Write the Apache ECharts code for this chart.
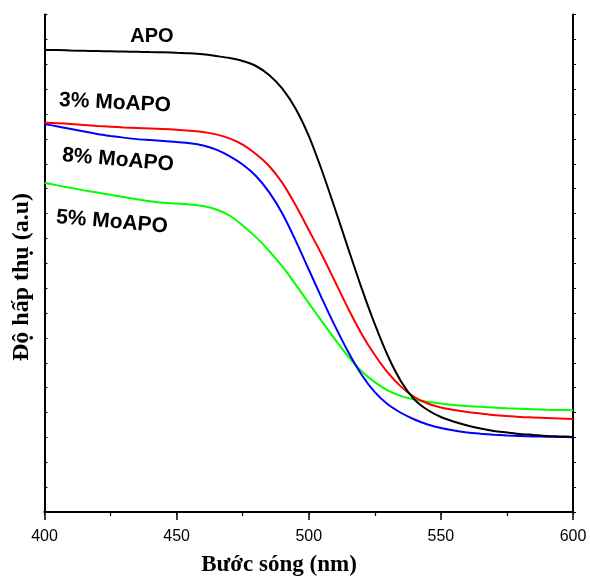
<!DOCTYPE html>
<html>
<head>
<meta charset="utf-8">
<script src="https://cdn.jsdelivr.net/npm/echarts@6/dist/echarts.min.js"></script>
<style>
  html, body { margin: 0; padding: 0; background: #fff; }
  #chart { width: 590px; height: 578px; }
</style>
</head>
<body>
<div id="chart"></div>
<script>
// Wavelength grid (nm), 5 nm step
const wavelengths = [400, 405, 410, 415, 420, 425, 430, 435, 440, 445, 450, 455, 460, 465, 470,
                     475, 480, 485, 490, 495, 500, 505, 510, 515, 520, 525, 530, 535, 540, 545,
                     550, 555, 560, 565, 570, 575, 580, 585, 590, 595, 600];

// Absorbance (a.u.) per sample
const apo = [18.57, 18.57, 18.55, 18.54, 18.53, 18.52, 18.51, 18.50, 18.49, 18.48, 18.46, 18.44, 18.40, 18.33, 18.25,
             18.13, 17.93, 17.57, 17.02, 16.22, 15.12, 13.72, 12.17, 10.57, 9.00, 7.55, 6.26, 5.24, 4.52, 4.10,
             3.82, 3.63, 3.48, 3.36, 3.26, 3.20, 3.14, 3.10, 3.06, 3.04, 3.02];
const moapo3 = [15.65, 15.63, 15.60, 15.56, 15.52, 15.49, 15.46, 15.44, 15.42, 15.40, 15.37, 15.33, 15.28, 15.18, 15.02,
                14.77, 14.39, 13.91, 13.23, 12.34, 11.34, 10.33, 9.25, 8.16, 7.16, 6.31, 5.59, 5.03, 4.62, 4.36,
                4.20, 4.10, 4.02, 3.96, 3.90, 3.86, 3.82, 3.80, 3.78, 3.76, 3.74];
const moapo8 = [15.60, 15.50, 15.40, 15.30, 15.20, 15.12, 15.05, 14.99, 14.95, 14.91, 14.87, 14.82, 14.73, 14.57, 14.31,
                13.97, 13.51, 12.86, 12.00, 10.92, 9.75, 8.58, 7.46, 6.42, 5.52, 4.82, 4.32, 3.98, 3.72, 3.52,
                3.38, 3.28, 3.20, 3.15, 3.11, 3.08, 3.06, 3.04, 3.03, 3.02, 3.01];
const moapo5 = [13.24, 13.13, 13.03, 12.93, 12.84, 12.75, 12.66, 12.57, 12.49, 12.43, 12.40, 12.36, 12.30, 12.16, 11.92,
                11.52, 11.05, 10.50, 9.87, 9.15, 8.40, 7.66, 6.93, 6.24, 5.66, 5.22, 4.88, 4.66, 4.52, 4.43,
                4.36, 4.30, 4.26, 4.23, 4.20, 4.17, 4.15, 4.13, 4.11, 4.10, 4.09];

const seriesNames = ['APO', '3% MoAPO', '8% MoAPO', '5% MoAPO'];
const seriesColors = ['#000000', '#ff0000', '#0000ff', '#00ff00'];
const seriesValues = [apo, moapo3, moapo8, moapo5];

const xTitle = 'Bước sóng (nm)';
const yTitle = 'Độ hấp thụ (a.u)';

const chart = echarts.init(document.getElementById('chart'), null, { renderer: 'canvas' });

const axisLine = { show: true, lineStyle: { color: '#000', width: 2 } };

const option = {
  backgroundColor: '#fff',
  animation: false,
  grid: { left: 44.5, right: 17, top: 14.5, bottom: 66, containLabel: false, outerBoundsMode: 'none' },
  xAxis: [
    {
      type: 'value', position: 'bottom', min: 400, max: 600, interval: 50,
      axisLine: axisLine,
      axisTick: { show: true, inside: false, length: 8, lineStyle: { color: '#000', width: 1.5 } },
      minorTick: { show: true, splitNumber: 2, length: 4, lineStyle: { color: '#000', width: 1.2 } },
      axisLabel: { show: true, color: '#000', fontFamily: 'Liberation Sans, Arial', fontSize: 16, margin: 17, hideOverlap: false, showMinLabel: true, showMaxLabel: true },
      splitLine: { show: false }
    },
    {
      type: 'value', position: 'top', min: 400, max: 600, interval: 25,
      axisLine: axisLine,
      axisTick: { show: true, inside: true, length: 3, lineStyle: { color: '#000', width: 1 } },
      axisLabel: { show: false },
      splitLine: { show: false }
    }
  ],
  yAxis: [
    {
      type: 'value', position: 'left', min: 0, max: 20, interval: 1,
      axisLine: axisLine,
      axisTick: { show: true, inside: true, length: 3, lineStyle: { color: '#000', width: 1 } },
      axisLabel: { show: false },
      splitLine: { show: false }
    },
    {
      type: 'value', position: 'right', min: 0, max: 20, interval: 1,
      axisLine: axisLine,
      axisTick: { show: true, inside: false, length: 3, lineStyle: { color: '#000', width: 1 } },
      axisLabel: { show: false },
      splitLine: { show: false }
    }
  ],
  series: seriesValues.map((vals, i) => ({
    name: seriesNames[i],
    type: 'line',
    xAxisIndex: 0,
    yAxisIndex: 0,
    data: wavelengths.map((w, j) => [w, vals[j]]),
    smooth: 0.3,
    showSymbol: false,
    symbol: 'none',
    lineStyle: { color: seriesColors[i], width: 2 },
    z: 10 - i
  })),
  graphic: [
    // series annotations
    { type: 'text', x: 152, y: 36, rotation: 0,
      style: { text: seriesNames[0], fill: '#000', font: 'bold 20px "Liberation Sans", Arial', align: 'center', verticalAlign: 'middle' } },
    { type: 'text', x: 115, y: 103, rotation: -0.05,
      style: { text: seriesNames[1], fill: '#000', font: 'bold 21px "Liberation Sans", Arial', align: 'center', verticalAlign: 'middle' } },
    { type: 'text', x: 118, y: 160, rotation: -0.085,
      style: { text: seriesNames[2], fill: '#000', font: 'bold 21px "Liberation Sans", Arial', align: 'center', verticalAlign: 'middle' } },
    { type: 'text', x: 112, y: 222, rotation: -0.085,
      style: { text: seriesNames[3], fill: '#000', font: 'bold 21px "Liberation Sans", Arial', align: 'center', verticalAlign: 'middle' } },
    // axis titles
    { type: 'text', x: 279, y: 565,
      style: { text: xTitle, fill: '#000', font: 'bold 23px "Liberation Serif", "Times New Roman"', align: 'center', verticalAlign: 'middle' } },
    { type: 'text', x: 22, y: 277, rotation: Math.PI / 2,
      style: { text: yTitle, fill: '#000', font: 'bold 24px "Liberation Serif", "Times New Roman"', align: 'center', verticalAlign: 'middle' } }
  ]
};

chart.setOption(option);
</script>
</body>
</html>
